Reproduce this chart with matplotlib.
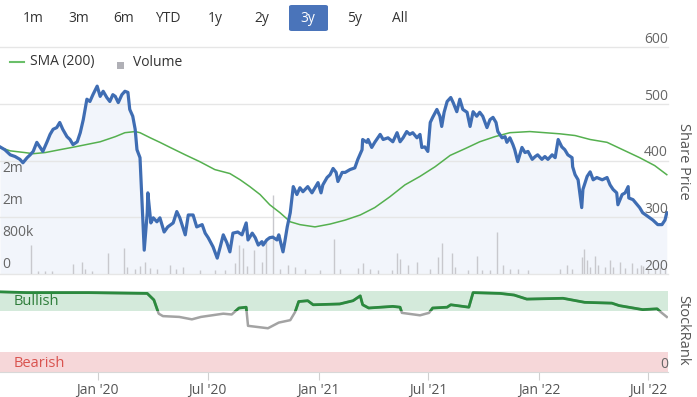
import matplotlib.pyplot as plt
import matplotlib.dates as mdates
from matplotlib.patches import FancyBboxPatch, Rectangle
from matplotlib.lines import Line2D
from matplotlib.transforms import blended_transform_factory
import pandas as pd

plt.rcParams['font.family'] = ['Open Sans', 'DejaVu Sans']

# ---- values ----
price_dates = [
    "2019-07-23", "2019-07-31", "2019-08-09", "2019-08-17", "2019-08-25", "2019-08-30", "2019-09-06",
    "2019-09-11", "2019-09-16", "2019-09-22", "2019-09-27", "2019-10-02", "2019-10-09", "2019-10-14",
    "2019-10-19", "2019-10-25", "2019-10-30", "2019-11-04", "2019-11-11", "2019-11-16", "2019-11-21",
    "2019-11-28", "2019-12-03", "2019-12-08", "2019-12-11", "2019-12-14", "2019-12-19", "2019-12-24",
    "2019-12-31", "2020-01-05", "2020-01-10", "2020-01-16", "2020-01-21", "2020-01-26", "2020-01-30",
    "2020-02-04", "2020-02-10", "2020-02-15", "2020-02-20", "2020-02-23", "2020-02-28", "2020-03-03",
    "2020-03-06", "2020-03-11", "2020-03-14", "2020-03-18", "2020-03-23", "2020-03-24", "2020-03-29",
    "2020-04-02", "2020-04-08", "2020-04-13", "2020-04-20", "2020-04-26", "2020-05-05", "2020-05-11",
    "2020-05-16", "2020-05-25", "2020-05-30", "2020-06-07", "2020-06-13", "2020-06-22", "2020-06-27",
    "2020-07-02", "2020-07-10", "2020-07-17", "2020-07-22", "2020-07-27", "2020-08-02", "2020-08-07",
    "2020-08-12", "2020-08-20", "2020-08-27", "2020-09-03", "2020-09-06", "2020-09-13", "2020-09-18",
    "2020-09-23", "2020-09-29", "2020-10-01", "2020-10-07", "2020-10-12", "2020-10-17", "2020-10-24",
    "2020-10-27", "2020-11-03", "2020-11-06", "2020-11-10", "2020-11-15", "2020-11-20", "2020-11-26",
    "2020-12-01", "2020-12-06", "2020-12-14", "2020-12-21", "2020-12-26", "2020-12-31", "2021-01-05",
    "2021-01-08", "2021-01-15", "2021-01-20", "2021-01-25", "2021-01-30", "2021-02-02", "2021-02-09",
    "2021-02-14", "2021-02-22", "2021-03-02", "2021-03-07", "2021-03-14", "2021-03-15", "2021-03-22",
    "2021-03-24", "2021-03-30", "2021-04-04", "2021-04-13", "2021-04-18", "2021-04-26", "2021-05-04",
    "2021-05-11", "2021-05-16", "2021-05-21", "2021-05-27", "2021-06-01", "2021-06-06", "2021-06-13",
    "2021-06-18", "2021-06-21", "2021-06-26", "2021-07-01", "2021-07-05", "2021-07-09", "2021-07-16",
    "2021-07-21", "2021-07-24", "2021-07-28", "2021-08-02", "2021-08-08", "2021-08-12", "2021-08-18",
    "2021-08-23", "2021-08-28", "2021-09-04", "2021-09-09", "2021-09-14", "2021-09-20", "2021-09-25",
    "2021-09-30", "2021-10-07", "2021-10-12", "2021-10-17", "2021-10-22", "2021-10-25", "2021-11-01",
    "2021-11-06", "2021-11-09", "2021-11-14", "2021-11-19", "2021-11-22", "2021-11-27", "2021-12-04",
    "2021-12-09", "2021-12-14", "2021-12-21", "2021-12-26", "2021-12-30", "2022-01-06", "2022-01-11",
    "2022-01-16", "2022-01-23", "2022-01-28", "2022-02-02", "2022-02-08", "2022-02-13", "2022-02-18",
    "2022-02-25", "2022-02-26", "2022-03-02", "2022-03-07", "2022-03-13", "2022-03-15", "2022-03-22",
    "2022-03-27", "2022-04-01", "2022-04-07", "2022-04-16", "2022-04-24", "2022-04-29", "2022-05-04",
    "2022-05-10", "2022-05-12", "2022-05-19", "2022-05-24", "2022-05-29", "2022-05-30", "2022-06-06",
    "2022-06-13", "2022-06-17", "2022-06-22", "2022-07-01", "2022-07-09", "2022-07-17", "2022-07-24",
    "2022-07-29", "2022-08-01",
]
price = [
    424, 419, 410, 407, 402, 396, 405, 410, 416, 432, 424, 416, 433, 446, 455, 458, 467, 455, 442, 437, 428,
    433, 449, 472, 490, 508, 504, 516, 531, 513, 522, 511, 504, 516, 513, 502, 516, 522, 520, 490, 478, 455,
    419, 405, 336, 242, 308, 343, 290, 299, 292, 299, 274, 283, 290, 310, 299, 269, 304, 304, 283, 287, 272,
    264, 248, 228, 248, 269, 255, 239, 272, 274, 269, 290, 260, 272, 264, 251, 257, 251, 260, 264, 265, 260,
    269, 239, 257, 283, 308, 354, 340, 352, 345, 354, 343, 352, 361, 343, 357, 370, 375, 386, 379, 363, 379,
    379, 384, 387, 402, 419, 437, 432, 437, 423, 432, 446, 437, 440, 433, 449, 433, 440, 451, 446, 449, 440,
    446, 423, 424, 416, 467, 476, 490, 478, 460, 485, 504, 511, 502, 486, 508, 490, 485, 460, 486, 478, 485,
    478, 458, 472, 476, 467, 451, 440, 442, 432, 440, 428, 419, 398, 423, 414, 416, 402, 407, 410, 402, 407,
    402, 410, 405, 437, 424, 419, 410, 405, 389, 375, 366, 317, 349, 372, 380, 366, 370, 366, 370, 357, 349,
    343, 322, 340, 343, 354, 334, 331, 322, 317, 308, 301, 295, 287, 287, 295, 308,
]

sma_dates = [
    "2019-07-23", "2019-08-09", "2019-09-02", "2019-09-16", "2019-10-06", "2019-10-30", "2019-11-24",
    "2020-01-05", "2020-01-30", "2020-02-15", "2020-03-03", "2020-03-11", "2020-03-28", "2020-04-13",
    "2020-04-30", "2020-05-25", "2020-06-18", "2020-07-13", "2020-08-07", "2020-08-24", "2020-09-09",
    "2020-09-26", "2020-10-12", "2020-10-29", "2020-11-15", "2020-12-01", "2020-12-26", "2021-01-20",
    "2021-02-14", "2021-03-11", "2021-04-04", "2021-04-29", "2021-05-24", "2021-06-18", "2021-07-13",
    "2021-08-07", "2021-09-01", "2021-09-25", "2021-10-20", "2021-11-14", "2021-12-17", "2022-01-11",
    "2022-02-05", "2022-03-02", "2022-03-27", "2022-04-24", "2022-05-24", "2022-06-17", "2022-07-12",
    "2022-08-01",
]
sma = [
    423, 417, 414, 412, 414, 419, 424, 433, 442, 449, 451, 449, 440, 432, 423, 410, 398, 384, 377, 366,
    354, 340, 322, 308, 292, 287, 283, 288, 295, 304, 317, 336, 357, 372, 389, 409, 421, 433, 442, 449,
    451, 449, 447, 444, 437, 432, 417, 405, 391, 375,
]

vol_dates = [
    "2019-09-12", "2019-09-24", "2019-10-06", "2019-10-17", "2019-11-21", "2019-12-06", "2019-12-11",
    "2019-12-22", "2020-01-18", "2020-02-13", "2020-02-18", "2020-03-03", "2020-03-11", "2020-03-19",
    "2020-03-28", "2020-04-08", "2020-04-30", "2020-05-10", "2020-05-21", "2020-06-18", "2020-07-13",
    "2020-07-30", "2020-08-15", "2020-08-22", "2020-08-29", "2020-09-04", "2020-09-16", "2020-09-29",
    "2020-10-06", "2020-10-17", "2020-10-29", "2020-11-11", "2020-11-23", "2020-12-09", "2021-01-03",
    "2021-01-26", "2021-02-05", "2021-03-07", "2021-03-15", "2021-03-27", "2021-04-09", "2021-05-03",
    "2021-05-11", "2021-05-16", "2021-05-29", "2021-06-13", "2021-07-05", "2021-07-18", "2021-07-24",
    "2021-08-10", "2021-08-15", "2021-09-05", "2021-09-20", "2021-09-29", "2021-10-12", "2021-10-24",
    "2021-11-02", "2021-11-14", "2021-11-27", "2021-12-14", "2022-02-05", "2022-02-17", "2022-02-25",
    "2022-03-13", "2022-03-17", "2022-03-22", "2022-03-27", "2022-04-04", "2022-04-09", "2022-04-20",
    "2022-04-29", "2022-05-04", "2022-05-15", "2022-05-24", "2022-06-04", "2022-06-13", "2022-06-19",
    "2022-06-22", "2022-07-01", "2022-07-12", "2022-07-21", "2022-07-29",
]
volume_k = [
    725, 75, 75, 75, 250, 300, 125, 75, 525, 650, 175, 125, 200, 300, 150, 125, 225, 125, 175, 100, 100,
    100, 275, 725, 650, 200, 600, 300, 875, 1975, 125, 225, 175, 125, 100, 875, 125, 150, 275, 125, 100,
    100, 525, 375, 225, 300, 125, 425, 775, 525, 175, 100, 450, 100, 100, 1050, 225, 125, 125, 100, 125,
    225, 125, 425, 625, 350, 175, 450, 225, 175, 350, 175, 300, 150, 275, 150, 225, 200, 125, 150, 175, 125,
]

rank_dates = [
    "2019-07-23", "2019-09-06", "2019-12-17", "2020-03-23", "2020-04-03", "2020-04-11", "2020-04-18",
    "2020-05-15", "2020-06-05", "2020-06-20", "2020-07-27", "2020-08-10", "2020-08-22", "2020-09-03",
    "2020-09-06", "2020-10-09", "2020-10-27", "2020-11-15", "2020-11-23", "2020-11-29", "2020-12-14",
    "2020-12-23", "2021-02-05", "2021-02-27", "2021-03-11", "2021-03-15", "2021-03-25", "2021-05-04",
    "2021-05-16", "2021-05-19", "2021-06-18", "2021-07-03", "2021-07-09", "2021-08-02", "2021-08-08",
    "2021-09-07", "2021-09-14", "2021-10-29", "2021-11-21", "2021-12-12", "2022-02-10", "2022-03-18",
    "2022-05-02", "2022-05-14", "2022-06-22", "2022-07-16", "2022-07-22", "2022-08-01",
]
stockrank = [
    99, 98, 98, 97, 89, 72, 69, 68, 65, 68, 72, 71, 79, 80, 57, 54, 61, 64, 74, 87, 88, 83, 84, 88, 94,
    83, 79, 81, 80, 73, 70, 73, 79, 80, 83, 80, 98, 97, 95, 90, 91, 86, 85, 82, 77, 78, 74, 68,
]

price_ticks = [200, 300, 400, 500, 600]
vol_ticks = [0, 800e3, 1.6e6, 2.4e6]
buttons = ['1m', '3m', '6m', 'YTD', '1y', '2y', '3y', '5y', 'All']
selected = '3y'

VOL_TOP = 5.675e6   # volume at the top of the price panel
BULL, BEAR = 75, 25

W, H = 697, 397
fig = plt.figure(figsize=(W / 100, H / 100), dpi=100)


def box(x0, y0, x1, y1):
    # pixel box measured from the top-left -> figure fraction
    return [x0 / W, 1 - y1 / H, (x1 - x0) / W, (y1 - y0) / H]


ax = fig.add_axes(box(0, 47, 668, 274))
axr = fig.add_axes(box(0, 291, 668, 372), sharex=ax)

pdates = pd.to_datetime(price_dates)
sdates = pd.to_datetime(sma_dates)
vdates = pd.to_datetime(vol_dates)
rdates = pd.to_datetime(rank_dates)

# ---- price panel ----
ax.set_ylim(200, 600)
ax.set_xlim(pd.Timestamp("2019-07-23"), pd.Timestamp("2022-08-03"))
for t in price_ticks:
    ax.axhline(t, color='#e6e6e6', lw=1, zorder=0.8, clip_on=False)
ax.fill_between(pdates, price, 200, color='#f2f5fb', lw=0, zorder=0.5)

vol_tr = blended_transform_factory(ax.transData, ax.transAxes)
ax.vlines(mdates.date2num(vdates), 0, [v * 1e3 / VOL_TOP for v in volume_k],
          transform=vol_tr, color='#c8c8cd', lw=1, zorder=1)

ax.plot(sdates, sma, color='#55b04f', lw=1.1, zorder=2)
ax.plot(pdates, price, color='#3f6db3', lw=2.3, zorder=3, solid_joinstyle='round')

yr = blended_transform_factory(ax.transAxes, ax.transData)
for t in price_ticks:
    ax.text(1, t, str(t), transform=yr, ha='right', va='bottom', fontsize=10, color='#666666', zorder=5)


def vol_label(v):
    if v == 0:
        return '0'
    if v < 1e6:
        return f'{v / 1e3:.0f}k'
    return f'{v / 1e6:.0f}m'


for v in vol_ticks:
    ax.text(0.004, v / VOL_TOP + 2 / 227, vol_label(v), transform=ax.transAxes,
            ha='left', va='bottom', fontsize=10, color='#666666', zorder=5)

for s in ax.spines.values():
    s.set_visible(False)
ax.tick_params(bottom=False, labelbottom=False, left=False, labelleft=False)

# ---- StockRank panel ----
axr.set_ylim(0, 100)
axr.axhspan(BULL, 100, color='#d4eadb', lw=0, zorder=0)
axr.axhspan(0, BEAR, color='#f6d7d9', lw=0, zorder=0)
axr.plot(rdates, stockrank, color='#a3a3a3', lw=1.8, zorder=2)
green, = axr.plot(rdates, stockrank, color='#2b8a3e', lw=2, zorder=3)
clip = Rectangle((0, BULL), 1, 40, transform=blended_transform_factory(axr.transAxes, axr.transData))
green.set_clip_path(clip)

axr.text(0.02, 87.5, 'Bullish', transform=blended_transform_factory(axr.transAxes, axr.transData),
         ha='left', va='center', fontsize=10.5, color='#2e7d3a')
axr.text(0.02, 10.5, 'Bearish', transform=blended_transform_factory(axr.transAxes, axr.transData),
         ha='left', va='center', fontsize=10.5, color='#d9534f')
axr.text(1, 0, '0', transform=blended_transform_factory(axr.transAxes, axr.transData),
         ha='right', va='bottom', fontsize=10, color='#666666')

for k in ['top', 'left', 'right']:
    axr.spines[k].set_visible(False)
axr.spines['bottom'].set_color('#d8d8d8')
axr.tick_params(left=False, labelleft=False)
axr.xaxis.set_major_locator(mdates.MonthLocator(bymonth=[1, 7]))
axr.xaxis.set_major_formatter(mdates.DateFormatter("%b '%y"))
axr.tick_params(axis='x', length=6, color='#d0d0d0', labelsize=10, labelcolor='#555555', pad=2)

# ---- range buttons ----
btn_x = [33, 79, 124, 168, 215, 262, 308, 355, 400]
for lab, bx in zip(buttons, btn_x):
    col = '#333333'
    if lab == selected:
        fig.add_artist(FancyBboxPatch((289 / W, 1 - 31 / H), 39 / W, 26 / H,
                                      boxstyle='round,pad=0,rounding_size=0.004',
                                      transform=fig.transFigure, fc='#4a74ba', ec='none'))
        col = 'white'
    fig.text(bx / W, 1 - 18 / H, lab, ha='center', va='center', fontsize=10, color=col)

# ---- legend ----
fig.add_artist(Line2D([10 / W, 24 / W], [1 - 62 / H] * 2, color='#6abf69', lw=1.5))
fig.text(30 / W, 1 - 62 / H, 'SMA (200)', ha='left', va='center', fontsize=10, color='#333333')
fig.add_artist(Rectangle((117 / W, 1 - 69 / H), 7 / W, 7 / H, transform=fig.transFigure,
                         fc='#b0b0b6', ec='none'))
fig.text(133 / W, 1 - 62 / H, 'Volume', ha='left', va='center', fontsize=10, color='#333333')

# ---- axis titles on the right ----
fig.text(683 / W, 1 - 161 / H, 'Share Price', rotation=270, ha='center', va='center',
         fontsize=10.5, color='#555555')
fig.text(683 / W, 1 - 330 / H, 'StockRank', rotation=270, ha='center', va='center',
         fontsize=10.5, color='#555555')

fig.savefig('out.png', dpi=100)
